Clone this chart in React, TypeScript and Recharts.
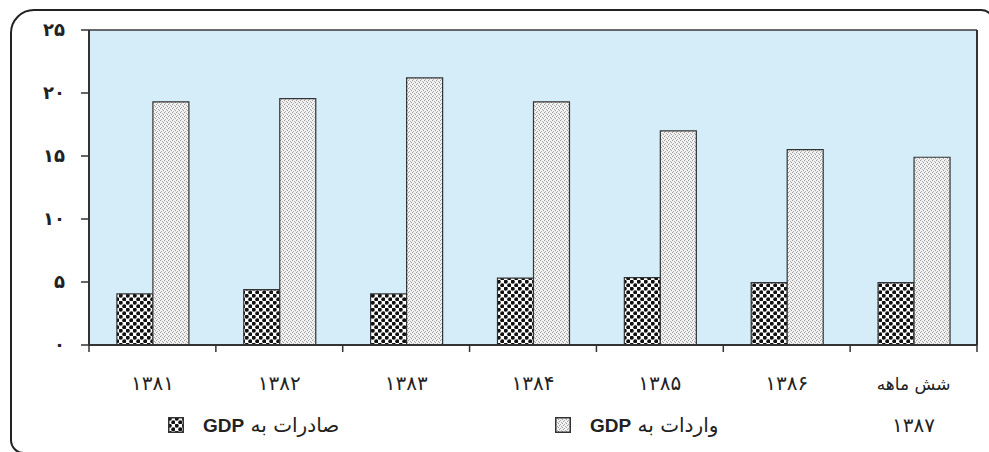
import { BarChart, Bar, XAxis, YAxis, CartesianGrid } from 'recharts';

const categories = ['۱۳۸۱', '۱۳۸۲', '۱۳۸۳', '۱۳۸۴', '۱۳۸۵', '۱۳۸۶', 'شش ماهه\n۱۳۸۷'];
const exportsToGdp = [4.05, 4.4, 4.05, 5.3, 5.35, 4.95, 4.95];
const importsToGdp = [19.3, 19.55, 21.2, 19.3, 17.0, 15.5, 14.9];
const yTicks = [0, 5, 10, 15, 20, 25];

const exportsLabel = 'صادرات به';
const importsLabel = 'واردات به';

const data = categories.map((name, i) => ({
  name,
  exports: exportsToGdp[i],
  imports: importsToGdp[i],
}));

const toPersian = (n: number) =>
  String(n).replace(/\d/g, (d) => '۰۱۲۳۴۵۶۷۸۹'[Number(d)]);

const W = 989;
const H = 452;
const PLOT_LEFT = 89;
const PLOT_RIGHT = 977;
const PLOT_BOTTOM = 345;
const BAND = (PLOT_RIGHT - PLOT_LEFT) / categories.length;
const FONT = '"DejaVu Sans", sans-serif';

function XTick(props: any) {
  const { x, payload, index } = props;
  const lines = String(payload.value).split('\n');
  return (
    <g>
      <line x1={x + BAND / 2} x2={x + BAND / 2} y1={PLOT_BOTTOM} y2={PLOT_BOTTOM + 7} stroke="#333" strokeWidth={1.5} />
      {index === 0 && (
        <line x1={x - BAND / 2} x2={x - BAND / 2} y1={PLOT_BOTTOM} y2={PLOT_BOTTOM + 7} stroke="#333" strokeWidth={1.5} />
      )}
      {lines.map((l, i) => {
        // digits-only lines are drawn a little larger, like the original
        const digits = /^[۰-۹]+$/.test(l);
        return (
          <text
            key={i}
            x={x}
            y={PLOT_BOTTOM + 45 + i * 42}
            textAnchor="middle"
            fontFamily={FONT}
            fontSize={digits ? 20 : 17}
            fill="#222"
          >
            {l}
          </text>
        );
      })}
    </g>
  );
}

function YTick(props: any) {
  const { x, y, payload } = props;
  return (
    <text x={x - 14} y={y + 6} textAnchor="end" fontFamily={FONT} fontSize={18} fontWeight="bold" fill="#222">
      {toPersian(payload.value)}
    </text>
  );
}

function Swatch({ pattern }: { pattern: string }) {
  return (
    <svg width={16} height={16} style={{ display: 'block' }}>
      <rect x={0.75} y={0.75} width={14.5} height={14.5} fill={`url(#${pattern})`} stroke="#333" strokeWidth={1.5} />
    </svg>
  );
}

export default function App() {
  return (
    <div style={{ position: 'absolute', left: 0, top: 0, width: W, height: H, overflow: 'hidden', background: '#fff' }}>
      <div
        style={{
          position: 'absolute',
          left: 10,
          top: 9,
          width: 985,
          height: 445,
          boxSizing: 'border-box',
          border: '2px solid #222',
          borderRadius: '24px 14px 0 14px',
        }}
      />
      <BarChart
        width={W}
        height={H}
        data={data}
        margin={{ top: 30, right: 0, left: 0, bottom: 0 }}
        barCategoryGap="22%"
        barGap={0}
        style={{ position: 'absolute', left: 0, top: 0 }}
      >
        <defs>
          <pattern id="dots" width={7} height={7} patternUnits="userSpaceOnUse">
            <rect width={7} height={7} fill="#fff" />
            <circle cx={1.75} cy={1.75} r={2.05} fill="#111" />
            <circle cx={5.25} cy={5.25} r={2.05} fill="#111" />
          </pattern>
          <pattern id="speckle" width={4} height={4} patternUnits="userSpaceOnUse">
            <rect width={4} height={4} fill="#f2f2f2" />
            <rect x={0} y={0} width={1} height={1} fill="#999" />
            <rect x={2} y={1} width={1} height={1} fill="#aaa" />
            <rect x={1} y={3} width={1} height={1} fill="#b0b0b0" />
            <rect x={3} y={2} width={1} height={1} fill="#999" />
          </pattern>
        </defs>
        <CartesianGrid vertical={false} stroke="#3a3a3a" strokeWidth={1.5} fill="#d4edf9" fillOpacity={1} />
        <XAxis
          dataKey="name"
          height={H - PLOT_BOTTOM}
          axisLine={{ stroke: '#333', strokeWidth: 2 }}
          tickLine={false}
          tick={<XTick />}
          interval={0}
        />
        <YAxis
          yAxisId="left"
          width={PLOT_LEFT}
          domain={[0, 25]}
          ticks={yTicks}
          axisLine={{ stroke: '#333', strokeWidth: 2 }}
          tickLine={{ stroke: '#333', strokeWidth: 1.5 }}
          tickSize={8}
          tick={<YTick />}
        />
        <YAxis
          yAxisId="right"
          orientation="right"
          width={W - PLOT_RIGHT}
          domain={[0, 25]}
          ticks={yTicks}
          axisLine={{ stroke: '#333', strokeWidth: 2 }}
          tickLine={false}
          tick={false}
        />
        <Bar yAxisId="left" dataKey="exports" fill="url(#dots)" stroke="#333" strokeWidth={1.2} isAnimationActive={false} />
        <Bar yAxisId="left" dataKey="imports" fill="url(#speckle)" stroke="#333" strokeWidth={1.2} isAnimationActive={false} />
      </BarChart>
      <div style={{ position: 'absolute', left: 168, top: 413, display: 'flex', alignItems: 'center', gap: 19 }}>
        <Swatch pattern="dots" />
        <span dir="rtl" style={{ fontFamily: FONT, fontSize: 20, color: '#222', whiteSpace: 'nowrap' }}>
          {exportsLabel} <b style={{ fontFamily: '"Liberation Sans", Arial, sans-serif', fontSize: 19 }}>GDP</b>
        </span>
      </div>
      <div style={{ position: 'absolute', left: 555, top: 413, display: 'flex', alignItems: 'center', gap: 19 }}>
        <Swatch pattern="speckle" />
        <span dir="rtl" style={{ fontFamily: FONT, fontSize: 20, color: '#222', whiteSpace: 'nowrap' }}>
          {importsLabel} <b style={{ fontFamily: '"Liberation Sans", Arial, sans-serif', fontSize: 19 }}>GDP</b>
        </span>
      </div>
    </div>
  );
}
